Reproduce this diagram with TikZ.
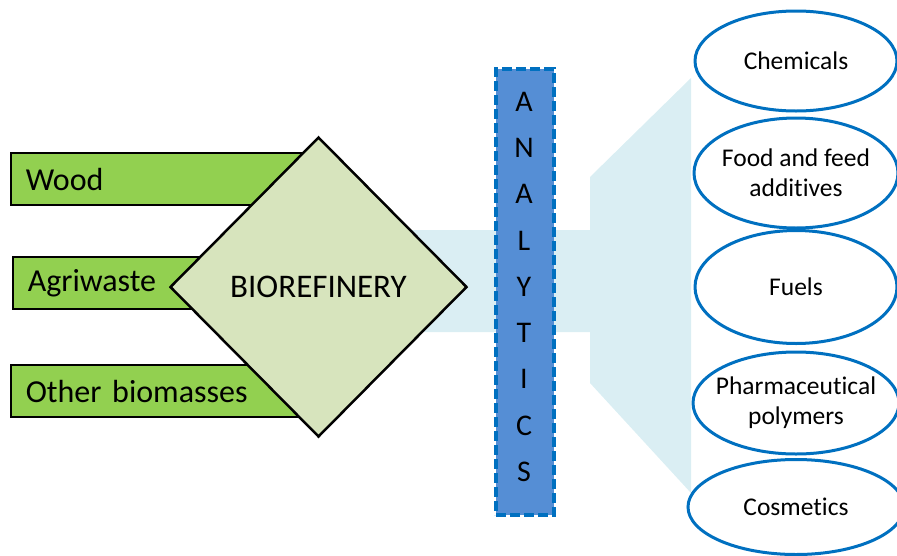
\documentclass[tikz,border=0pt]{standalone}
\usepackage{fontspec}
\setmainfont{Carlito}[Ligatures=NoCommon]
\usetikzlibrary{shapes.geometric}

\definecolor{feedgreen}{RGB}{146,208,80}
\definecolor{refinegreen}{RGB}{215,228,189}
\definecolor{flowblue}{RGB}{218,238,243}
\definecolor{anablue}{RGB}{85,142,213}
\definecolor{edgeblue}{RGB}{0,112,192}

\tikzset{
    feedbox/.style={draw=black, line width=1.5pt, fill=feedgreen, rectangle, anchor=west,
        minimum width=320pt, minimum height=52pt, inner xsep=15pt, text width=290pt, align=left,
        font=\fontsize{32}{36}\selectfont},
    product/.style={draw=edgeblue, line width=3pt, fill=white, ellipse, inner ysep=0pt,
        inner xsep=-12pt, align=center, font=\fontsize{25.5}{30}\selectfont}
}

\begin{document}
\begin{tikzpicture}[x=1pt,y=-1pt]
    \useasboundingbox (0,0) rectangle (897,555);

    % Flow band behind everything
    \fill[flowblue] (400,230) -- (590,230) -- (590,177) -- (691,78) -- (691,493)
        -- (590,383) -- (590,332) -- (400,332) -- cycle;

    % Feedstocks
    \node[feedbox] (wood) at (10,179) {Wood};
    \node[feedbox] (agri) at (12,283) {Agriwaste};
    \node[feedbox] (other) at (10,391) {Other biomasses};

    % Biorefinery
    \node[diamond, draw=black, line width=2.5pt, fill=refinegreen, inner sep=0pt,
        minimum width=297pt, minimum height=300pt, font=\fontsize{33}{36}\selectfont]
        (bioref) at (318.5,287) {BIOREFINERY};

    % Analytics column
    \node[draw=edgeblue, line width=3.5pt, dash pattern=on 10pt off 4pt, fill=anablue,
        minimum width=58pt, minimum height=446pt] (analytics) at (525,292) {};
    \foreach \l [count=\i] in {A,N,A,L,Y,T,I,C,S}
        \node[font=\fontsize{30}{36}\selectfont] (ana\i) at (524,101.5+46.3*\i-46.3) {\l};

    % Products
    \node[product, minimum width=202pt, minimum height=100pt] (chem) at (796,61) {Chemicals};
    \node[product, minimum width=204pt, minimum height=110pt] (food) at (796,173) {Food and feed\\additives};
    \node[product, minimum width=202pt, minimum height=113pt] (fuels) at (796,287) {Fuels};
    \node[product, minimum width=206pt, minimum height=102pt] (pharma) at (796,403) {Pharmaceutical\\polymers};
    \node[product, minimum width=216pt, minimum height=95pt] (cosm) at (796,507) {Cosmetics};
\end{tikzpicture}
\end{document}
